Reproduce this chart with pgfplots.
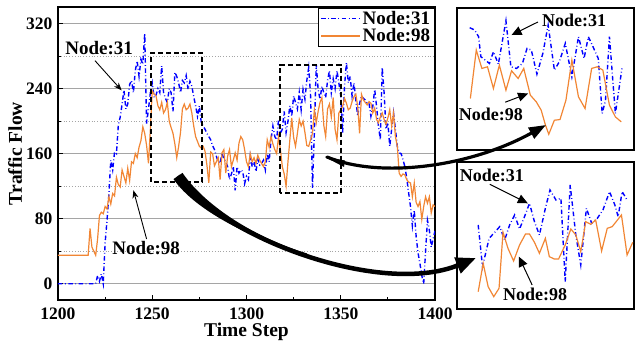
\documentclass[border=0pt]{standalone}
\usepackage{pgfplots}
\pgfplotsset{compat=1.18}
\usepackage{pgfplotstable}
\usepackage{fontspec}
\setmainfont{Liberation Serif}
\usetikzlibrary{arrows.meta}
\definecolor{or98}{RGB}{241,134,52}
\definecolor{gridg}{RGB}{165,165,165}

\pgfplotstableread{
x n98 n31
1200 35 0
1201 35 0
1202 35 0
1203 35 0
1204 35 0
1205 35 0
1206 35 0
1207 35 0
1208 35 0
1209 35 0
1210 35 0
1211 35 0
1212 35 0
1213 35 0
1214 35 0
1215 35 0
1216 35 0
1217 68 0
1218 45 0
1219 40 0
1220 35 0
1221 55 10
1222 84 3
1223 88 12
1224 86 0
1225 95 50
1226 92 78
1227 107 110
1228 98 152
1229 111 140
1230 108 162
1231 131 160
1232 122 195
1233 119 205
1234 140 221
1235 132 238
1236 124 215
1237 142 221
1238 127 245
1239 150 250
1240 148 235
1241 160 262
1242 155 274
1243 168 255
1244 176 276
1245 193 270
1246 185 308
1247 170 197
1248 148 215
1249 190 235
1250 237 247
1251 233 229
1252 231 232
1253 219 240
1254 214 235
1255 223 268
1256 210 235
1257 214 228
1258 223 223
1259 200 240
1260 192 235
1261 185 212
1262 172 260
1263 155 255
1264 169 247
1265 186 235
1266 215 250
1267 221 247
1268 214 256
1269 216 239
1270 221 249
1271 210 243
1272 194 230
1273 181 219
1274 175 206
1275 169 219
1276 167 198
1277 169 194
1278 163 190
1279 146 185
1280 124 181
1281 162 177
1282 160 170
1283 145 165
1284 150 157
1285 155 150
1286 128 148
1287 161 161
1288 165 153
1289 136 150
1290 157 144
1291 165 128
1292 144 135
1293 152 144
1294 161 115
1295 152 144
1296 173 136
1297 181 140
1298 177 138
1299 165 123
1300 150 132
1301 144 128
1302 160 157
1303 150 144
1304 155 150
1305 148 138
1306 158 153
1307 152 146
1308 148 148
1309 144 152
1310 150 140
1311 177 160
1312 168 150
1313 181 177
1314 172 194
1315 165 181
1316 160 177
1317 181 202
1318 165 185
1319 144 190
1320 135 212
1321 120 186
1322 150 200
1323 177 219
1324 204 206
1325 180 231
1326 169 223
1327 185 215
1328 202 235
1329 194 214
1330 200 239
1331 186 227
1332 170 250
1333 169 266
1334 177 231
1335 185 118
1336 214 186
1337 198 270
1338 212 239
1339 223 227
1340 229 243
1341 195 235
1342 181 229
1343 215 250
1344 221 262
1345 205 235
1346 229 252
1347 190 240
1348 177 262
1349 210 247
1350 214 231
1351 218 185
1352 228 243
1353 222 272
1354 214 247
1355 216 255
1356 224 231
1357 230 247
1358 233 226
1359 218 206
1360 185 222
1361 233 231
1362 226 228
1363 223 226
1364 220 222
1365 224 222
1366 222 206
1367 210 218
1368 216 239
1369 202 218
1370 198 194
1371 205 177
1372 210 266
1373 202 235
1374 196 190
1375 204 198
1376 214 169
1377 194 190
1378 210 210
1379 181 190
1380 169 169
1381 136 161
1382 132 160
1383 135 153
1384 134 144
1385 128 130
1386 125 112
1387 124 95
1388 107 71
1389 124 90
1390 100 58
1391 95 38
1392 101 25
1393 79 10
1394 95 0
1395 107 40
1396 99 78
1397 107 66
1398 87 45
1399 97 55
1400 95 65
}\maindata

% inset data (inset-local coordinates, y grows downward)
\pgfplotstableread{
X Y
88 83
103 90
115 110
122 170
135 180
148 190
160 155
175 192
198 62
213 200
230 205
248 190
262 145
275 150
292 222
310 160
326 75
345 210
360 185
378 130
398 230
418 110
435 175
448 110
462 140
478 175
490 340
500 300
512 110
530 340
550 205
}\topblue
\pgfplotstableread{
X Y
90 295
108 150
125 205
142 200
160 265
178 195
198 270
215 212
235 235
252 205
272 285
290 305
305 330
318 375
328 402
345 360
362 358
380 300
398 180
418 290
438 325
458 205
475 200
492 210
512 315
530 350
548 365
}\toporange
\pgfplotstableread{
X Y
115 210
128 335
148 250
165 232
180 215
195 255
210 210
225 180
240 222
255 185
270 145
285 200
300 240
318 160
332 105
350 135
365 130
378 380
393 90
410 240
425 330
442 160
458 205
475 190
492 165
512 110
528 150
538 185
550 110
565 135
}\botblue
\pgfplotstableread{
X Y
115 410
130 325
145 395
162 425
178 400
190 232
205 280
222 318
240 270
258 237
270 237
285 262
300 295
318 250
330 305
345 312
358 312
378 270
395 222
410 240
425 290
440 200
455 208
470 195
488 288
505 220
520 215
548 180
565 300
582 262
}\botorange

\tikzset{
  n31/.style={blue, line width=1.4pt, dash pattern=on 4.5pt off 2.5pt on 0.8pt off 2.5pt},
  n98/.style={or98, line width=1.2pt},
}

\begin{document}
\begin{tikzpicture}
\useasboundingbox (0,0) rectangle (635pt,347pt);
\begin{axis}[
  at={(58pt,47pt)}, anchor=south west,
  scale only axis, width=377pt, height=292.7pt,
  xmin=1200, xmax=1400, ymin=-20, ymax=340,
  xtick={1200,1250,...,1400}, ytick={0,80,...,320},
  minor x tick num=1, minor y tick num=1,
  tick pos=left, tick align=inside,
  major tick length=5pt, minor tick length=3pt,
  tick style={black, line width=1pt},
  ymajorgrids, yminorgrids,
  major grid style={gridg, line width=0.8pt, solid},
  minor grid style={gridg, line width=0.8pt, dotted},
  axis line style={line width=2pt},
  /pgf/number format/.cd, set thousands separator={}, assume math mode=true,
  /pgfplots/.cd,
  ticklabel style={font=\fontsize{17.5}{18}\selectfont\bfseries},
  xticklabel style={yshift=-4pt},
  yticklabel style={xshift=-2pt},
  xlabel={Time Step}, ylabel={Traffic Flow},
  xlabel style={font=\fontsize{19.5}{20}\selectfont\bfseries, at={(axis description cs:0.5,-0.11)}, anchor=center},
  ylabel style={font=\fontsize{19.5}{20}\selectfont\bfseries, at={(axis description cs:-0.114,0.5)}, anchor=center},
  legend style={at={(rel axis cs:1,1)}, anchor=north east, draw=black, line width=1.5pt,
    font=\fontsize{19}{21}\selectfont\bfseries, inner xsep=2pt, inner ysep=1pt, row sep=-1pt},
  legend cell align=left,
  legend image code/.code={\draw[#1] (0pt,0pt) -- (39pt,0pt);},
]
\addplot[n31] table[x=x,y=n31]{\maindata};
\addlegendentry{Node:31}
\addplot[n98] table[x=x,y=n98]{\maindata};
\addlegendentry{Node:98}
\draw[black, line width=2pt, dash pattern=on 5pt off 3pt] (axis cs:1249.3,125.3) rectangle (axis cs:1276.5,283.4);
\draw[black, line width=2pt, dash pattern=on 5pt off 3pt] (axis cs:1317.8,111.8) rectangle (axis cs:1350,269.5);
\node[font=\fontsize{19}{21}\selectfont\bfseries] at (axis cs:1221.8,289.7) {Node:31};
\draw[line width=0.9pt, -{Stealth[length=8pt,width=6pt]}] (axis cs:1219.6,274.4) -- (axis cs:1233.8,237.7);
\node[font=\fontsize{19}{21}\selectfont\bfseries] at (axis cs:1246.8,44.3) {Node:98};
\draw[line width=0.9pt, -{Stealth[length=8pt,width=6pt]}] (axis cs:1247,55) -- (axis cs:1240,115);
\end{axis}

% top inset
\begin{axis}[
  at={(456.5pt,196.7pt)}, anchor=south west,
  scale only axis, width=177pt, height=142pt,
  xmin=48, xmax=585, ymin=25, ymax=450, y dir=reverse,
  ticks=none, axis line style={line width=2pt}, clip=false,
]
\addplot[n31] table[x=X,y=Y]{\topblue};
\addplot[n98] table[x=X,y=Y]{\toporange};
\node[font=\fontsize{18}{20}\selectfont\bfseries] at (axis cs:405,62) {Node:31};
\draw[line width=1pt, -{Triangle[length=10pt,width=9pt]}] (axis cs:295,66) -- (axis cs:215,105);
\node[font=\fontsize{18}{20}\selectfont\bfseries] at (axis cs:152,343) {Node:98};
\draw[line width=1pt, -{Triangle[length=10pt,width=9pt]}] (axis cs:196,306) -- (axis cs:265,280);
\end{axis}

% bottom inset
\begin{axis}[
  at={(456.7pt,38pt)}, anchor=south west,
  scale only axis, width=177pt, height=146.7pt,
  xmin=50, xmax=585, ymin=22, ymax=462, y dir=reverse,
  ticks=none, axis line style={line width=2pt}, clip=false,
]
\addplot[n31] table[x=X,y=Y]{\botblue};
\addplot[n98] table[x=X,y=Y]{\botorange};
\node[font=\fontsize{18}{20}\selectfont\bfseries] at (axis cs:156,62) {Node:31};
\draw[line width=1pt, -{Triangle[length=10pt,width=9pt]}] (axis cs:150,88) -- (axis cs:265,145);
\node[font=\fontsize{18}{20}\selectfont\bfseries] at (axis cs:287,418) {Node:98};
\draw[line width=1pt, -{Triangle[length=10pt,width=9pt]}] (axis cs:278,390) -- (axis cs:238,305);
\end{axis}

% curved connector arrows
\fill (325pt,190pt) -- (345pt,186.5pt) -- (344pt,180pt) -- cycle;
\draw[line width=3.2pt, line cap=round, -{Triangle[length=17pt,width=12pt]}]
  (327pt,190pt) .. controls (380pt,168pt) and (470pt,180pt) .. (546pt,222pt);
\fill (182.5pt,174.1pt) .. controls (203.5pt,143.6pt) and (249.8pt,111.25pt) .. (307.05pt,93.5pt)
  -- (306.45pt,91.5pt) .. controls (249.2pt,109.25pt) and (194.5pt,137.4pt) .. (173.5pt,167.9pt) -- cycle;
\draw[line width=4.5pt, -{Triangle[length=20pt,width=16pt]}]
  (178pt,171pt) .. controls (220pt,110pt) and (380pt,50pt) .. (476pt,89pt);
\end{tikzpicture}
\end{document}
